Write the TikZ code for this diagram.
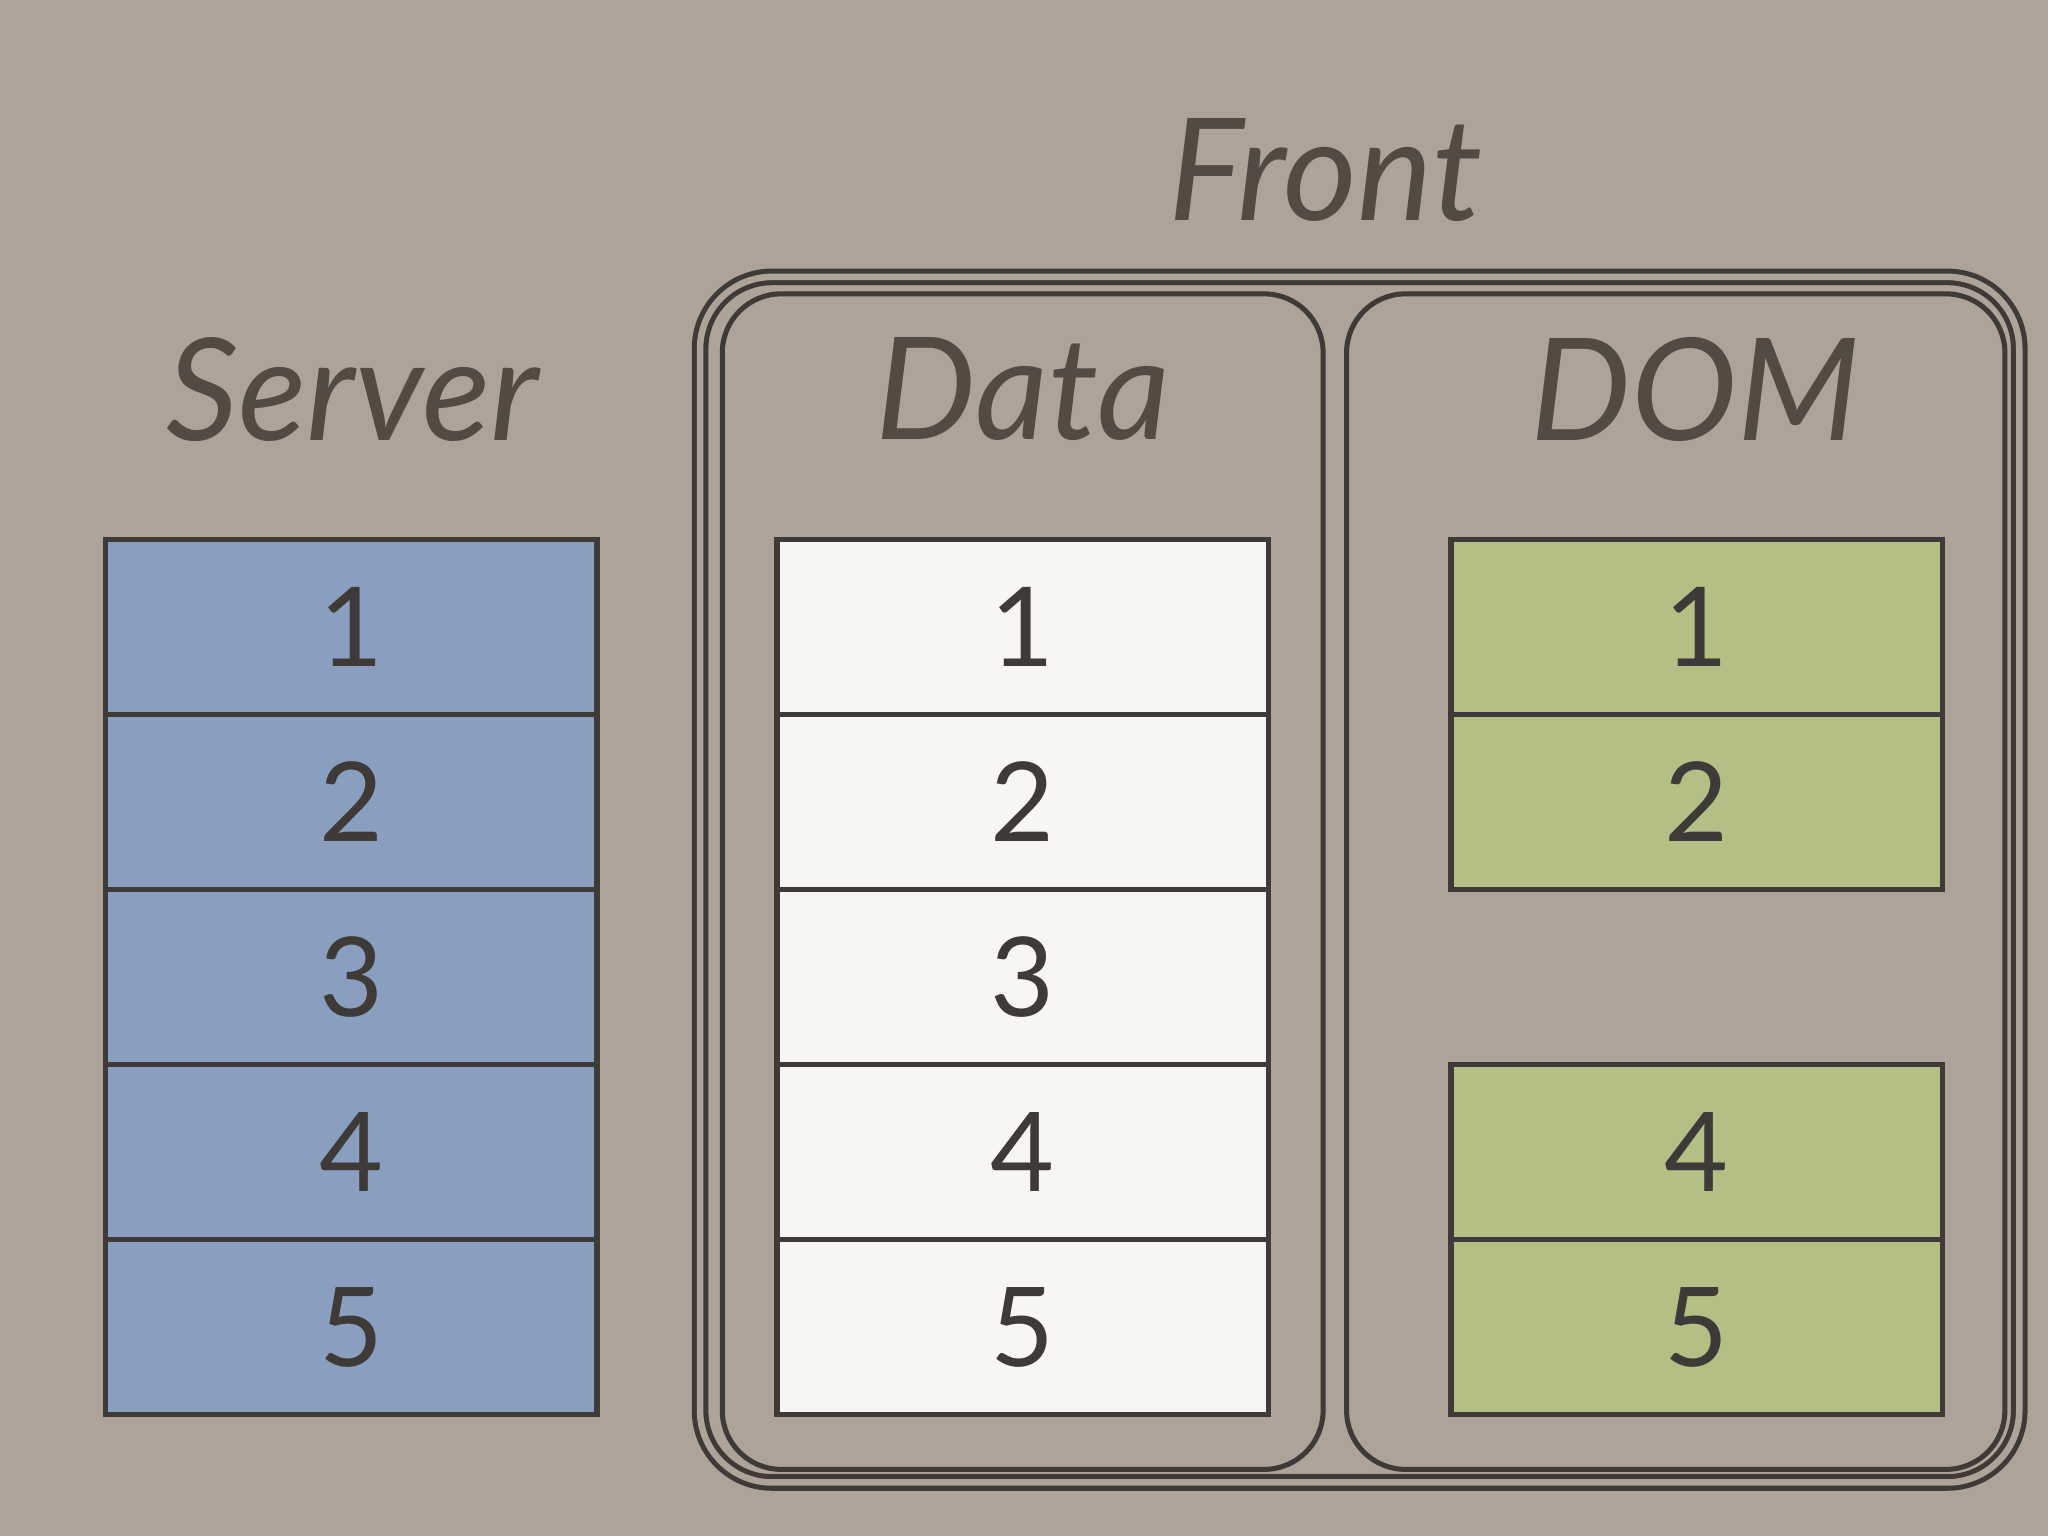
\documentclass[tikz,border=0pt]{standalone}
\usepackage{fontspec}
\setmainfont{Lato}
\usetikzlibrary{positioning}
\definecolor{bgcol}{HTML}{ADA398}
\definecolor{servercol}{HTML}{8A9FC0}
\definecolor{datacol}{HTML}{F8F6F3}
\definecolor{domcol}{HTML}{B3BF85}
\definecolor{inkcol}{HTML}{3E3A37}
\definecolor{titlecol}{HTML}{544A44}
\begin{document}
\begin{tikzpicture}[x=0.01cm,y=-0.01cm,
    cell/.style={rectangle, draw=inkcol, line width=1.2pt, minimum width=3.76cm, minimum height=1.34cm, inner sep=0pt, font=\fontsize{24}{24}\selectfont, text=inkcol},
    servercell/.style={cell, fill=servercol},
    datacell/.style={cell, fill=datacol},
    domcell/.style={cell, fill=domcol},
    title/.style={font=\fontsize{31}{31}\selectfont\itshape, text=titlecol},
    frame/.style={draw=inkcol, line width=1.1pt, rounded corners=0.45cm}
]
    % background
    \fill[bgcol] (0,0) rectangle (1568,1176);
    \useasboundingbox (0,0) rectangle (1568,1176);

    % titles
    \node[title] (front) at (1015,130) {Front};
    \node[title] (server) at (270,298) {Server};
    \node[title] (data) at (783,298) {Data};
    \node[title] (dom) at (1298,298) {DOM};

    % frames
    \draw[frame, double=bgcol, double distance=0.05cm, rounded corners=0.55cm] (536,212) rectangle (1546,1135);
    \draw[frame] (553,225) rectangle (1013,1125);
    \draw[frame] (1031,225) rectangle (1535,1125);

    % cells
    \foreach \i in {1,...,5} {
        \node[servercell] (s\i) at (269,{480+134*(\i-1)}) {\i};
        \node[datacell] (d\i) at (783,{480+134*(\i-1)}) {\i};
    }
    \foreach \i in {1,2,4,5} {
        \node[domcell] (m\i) at (1299,{480+134*(\i-1)}) {\i};
    }
\end{tikzpicture}
\end{document}
